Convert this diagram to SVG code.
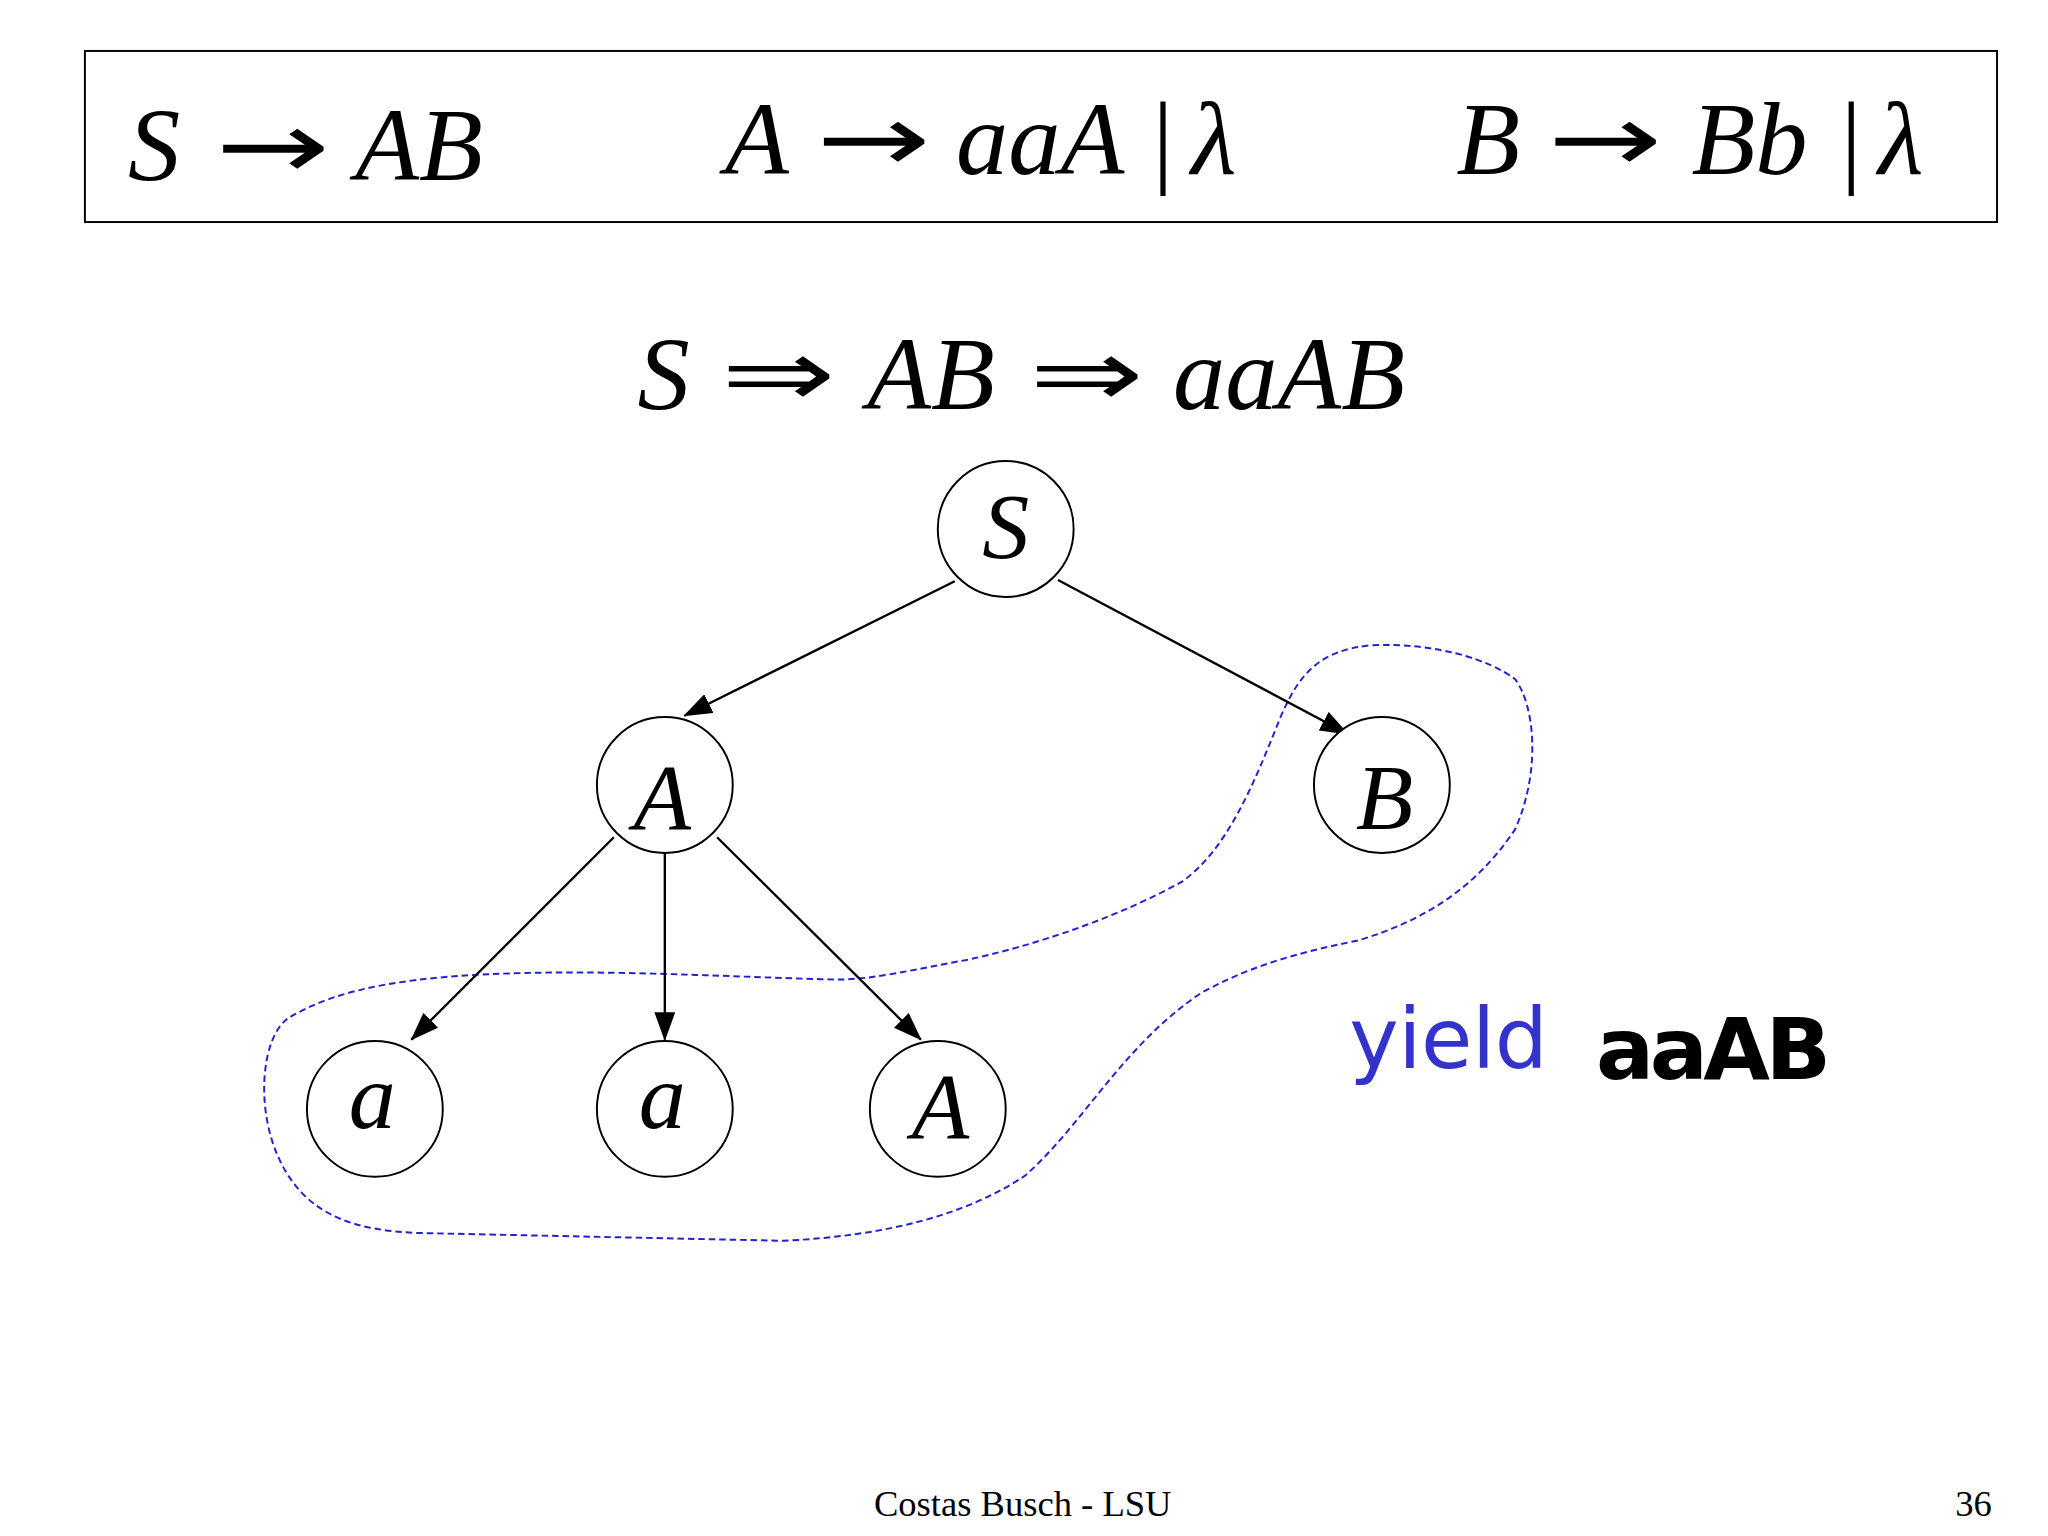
<svg xmlns="http://www.w3.org/2000/svg" width="2048" height="1536" viewBox="0 0 2048 1536">
<style>
.m{font-family:"Liberation Serif",serif;font-style:italic;fill:#000}
.ar{font-family:"DejaVu Sans",sans-serif;font-style:normal;fill:#000}
.n{fill:#fff;stroke:#000;stroke-width:1.5}
.e{stroke:#000;stroke-width:1.8;fill:none;marker-end:url(#ah)}
</style>
<defs><marker id="ah" markerWidth="22" markerHeight="16" refX="21" refY="8" orient="auto" markerUnits="userSpaceOnUse"><path d="M0,0L22,8L0,16Z" fill="#000"/></marker></defs>
<rect width="2048" height="1536" fill="#fff"/>
<g transform="scale(1.30612)">
<g id="rules">
<rect x="65" y="39" width="1464" height="131" fill="none" stroke="#000" stroke-width="1.5"/>
<text class="m" x="98" y="138" font-size="80">S</text>
<text class="ar" x="165" y="136" font-size="72" textLength="88" lengthAdjust="spacingAndGlyphs">→</text>
<text class="m" x="272" y="138" font-size="80">AB</text>
<text class="m" x="555" y="133" font-size="80">A</text>
<text class="ar" x="625" y="131" font-size="72" textLength="88" lengthAdjust="spacingAndGlyphs">→</text>
<text class="m" x="732" y="133" font-size="80">aaA</text>
<text class="m" x="878" y="133" font-size="80" font-style="normal">|</text>
<text class="m" x="912" y="133" font-size="80">λ</text>
<text class="m" x="1115" y="133" font-size="80">B</text>
<text class="ar" x="1185" y="131" font-size="72" textLength="88" lengthAdjust="spacingAndGlyphs">→</text>
<text class="m" x="1295" y="133" font-size="80">Bb</text>
<text class="m" x="1405" y="133" font-size="80" font-style="normal">|</text>
<text class="m" x="1438" y="133" font-size="80">λ</text>
</g>
<g id="deriv">
<text class="m" x="488" y="313" font-size="80">S</text>
<text class="ar" x="552" y="311" font-size="72" textLength="88" lengthAdjust="spacingAndGlyphs">⇒</text>
<text class="m" x="664" y="313" font-size="80">AB</text>
<text class="ar" x="788" y="311" font-size="72" textLength="88" lengthAdjust="spacingAndGlyphs">⇒</text>
<text class="m" x="898" y="313" font-size="80">aaAB</text>
</g>
<g id="yieldregion"><path d="M220,780 C200,795 195,850 215,890 C235,930 270,942 320,944 L600,950 C680,946 740,930 785,900 C830,860 860,800 920,760 C960,738 1000,728 1040,720 C1090,705 1130,680 1160,635 C1180,590 1175,540 1160,520 C1140,505 1100,492 1050,494 C1010,498 995,515 980,550 C960,600 940,650 905,675 C860,700 800,722 740,735 C700,742 670,750 640,750 C560,748 480,743 400,745 C320,747 260,755 220,780 Z" fill="none" stroke="#2222cc" stroke-width="1.5" stroke-dasharray="5,3"/></g>
<g id="connectors">
<line class="e" x1="731" y1="445" x2="524" y2="548"/>
<line class="e" x1="810" y1="444" x2="1032" y2="562"/>
<line class="e" x1="470" y1="641" x2="315" y2="796"/>
<line class="e" x1="509" y1="653" x2="509" y2="796"/>
<line class="e" x1="549" y1="641" x2="705" y2="796"/>
</g>
<g id="nS"><circle class="n" cx="770" cy="405" r="52"/><text class="m" x="770" y="427" font-size="72" text-anchor="middle">S</text></g>
<g id="nA"><circle class="n" cx="509" cy="601" r="52"/><text class="m" x="507" y="635" font-size="72" text-anchor="middle">A</text></g>
<g id="nB"><circle class="n" cx="1058" cy="601" r="52"/><text class="m" x="1060" y="635" font-size="72" text-anchor="middle">B</text></g>
<g id="na1"><circle class="n" cx="287" cy="849" r="52"/><text class="m" x="285" y="864" font-size="72" text-anchor="middle">a</text></g>
<g id="na2"><circle class="n" cx="509" cy="849" r="52"/><text class="m" x="507" y="864" font-size="72" text-anchor="middle">a</text></g>
<g id="nA2"><circle class="n" cx="718" cy="849" r="52"/><text class="m" x="720" y="871" font-size="72" text-anchor="middle">A</text></g>
<text x="1033" y="818" font-family="DejaVu Sans,sans-serif" font-size="64" fill="#3333cc" textLength="152">yield</text>
<text x="1222" y="826" font-family="DejaVu Sans,sans-serif" font-size="66" font-weight="bold" fill="#000" textLength="180">aaAB</text>
<text x="783" y="1161" font-family="Liberation Serif,serif" font-size="28" text-anchor="middle">Costas Busch - LSU</text>
<text x="1525" y="1161" font-family="Liberation Serif,serif" font-size="28" text-anchor="end">36</text>
</g>
</svg>
